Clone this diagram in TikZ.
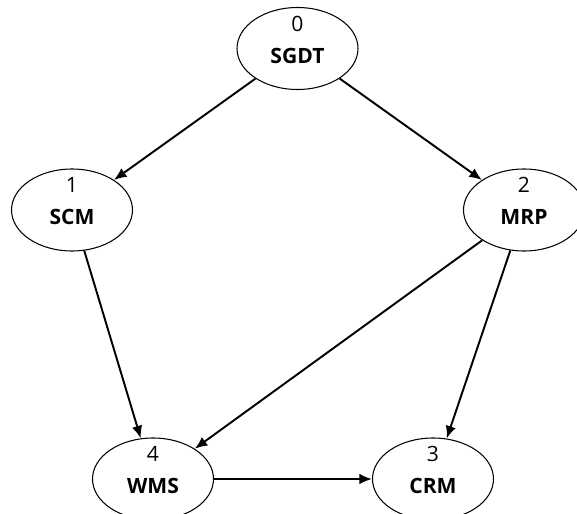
\documentclass[tikz,border=0pt]{standalone}
\usepackage{fontspec}
\setmainfont{Open Sans}
\usepackage{tikz}
\usetikzlibrary{shapes.geometric,arrows.meta}

\begin{document}
\begin{tikzpicture}[
    proc/.style={ellipse, draw, line width=0.6pt, minimum width=2.42cm, minimum height=1.64cm, inner sep=0pt},
    num/.style={font=\fontsize{12}{14}\selectfont, inner sep=0pt},
    lbl/.style={font=\fontsize{12}{14}\selectfont\bfseries, inner sep=0pt},
    link/.style={line width=1.1pt, -{Latex[length=2.5mm,width=2.1mm]}}
]
\useasboundingbox (0,0) rectangle (11.54,-10.28);
\foreach \n/\x/\y/\k/\t in {sgdt/5.95/-0.97/0/SGDT, scm/1.44/-4.2/1/SCM, mrp/10.48/-4.2/2/MRP, crm/8.66/-9.58/3/CRM, wms/3.06/-9.58/4/WMS} {
    \node[proc] (\n) at (\x,\y) {};
    \node[num] (\n-k) at ([yshift=0.5cm]\n.center) {\k};
    \node[lbl] (\n-t) at ([yshift=-0.14cm]\n.center) {\t};
}
\draw[link] (sgdt) -- (scm);
\draw[link] (sgdt) -- (mrp);
\draw[link] (scm) -- (wms);
\draw[link] (mrp) -- (wms);
\draw[link] (mrp) -- (crm);
\draw[link] (wms) -- (crm);
\end{tikzpicture}
\end{document}
